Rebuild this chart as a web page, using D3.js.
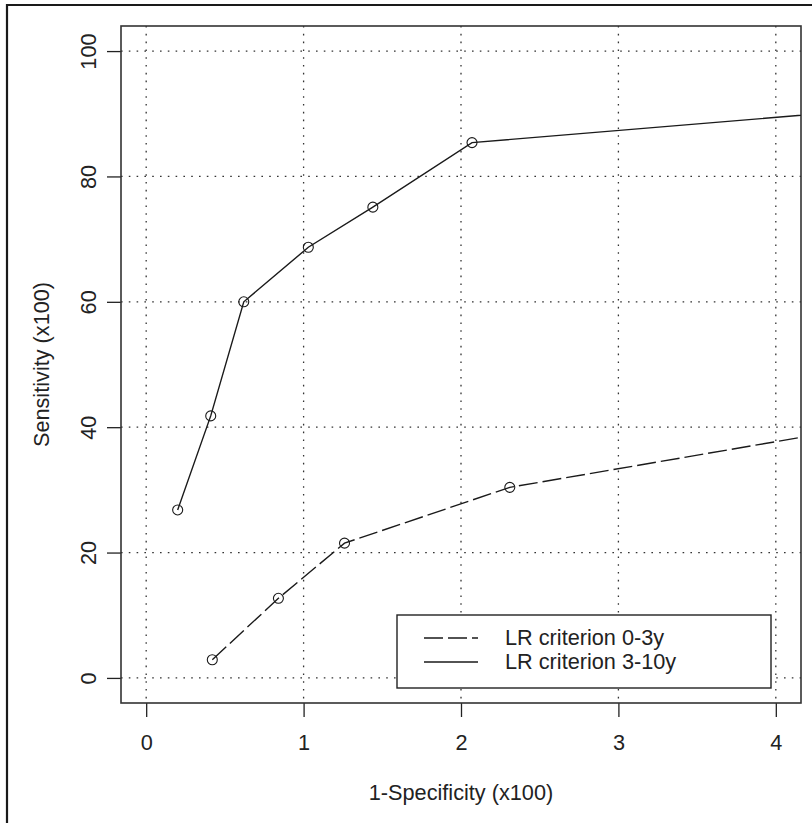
<!DOCTYPE html>
<html>
<head>
<meta charset="utf-8">
<script src="https://cdn.jsdelivr.net/npm/d3@7"></script>
<style>
  html, body { margin: 0; padding: 0; background: #fff; }
  svg text { font-family: "Liberation Sans", Arial, sans-serif; fill: #222; }
</style>
</head>
<body>
<svg id="roc" width="812" height="823"></svg>
<script>
const width = 812;
const height = 823;
const fontSize = 21.7;

// plot region (pixels)
const plotLeft = 121, plotRight = 801, plotTop = 26, plotBottom = 703;

// axis ticks
const xTicks = [0, 1, 2, 3, 4];
const yTicks = [0, 20, 40, 60, 80, 100];

// series (last point lies beyond the plot and is clipped)
const seriesNames = ["LR criterion 0-3y", "LR criterion 3-10y"];
const early_x = [0.42, 0.84, 1.26, 2.31, 5.0];
const early_y = [2.9, 12.7, 21.5, 30.4, 42.0];
const late_x = [0.20, 0.41, 0.62, 1.03, 1.44, 2.07, 5.0];
const late_y = [26.8, 41.8, 60.0, 68.7, 75.1, 85.4, 91.5];

const dashes = ["19,5", null];

const series = [
    { name: seriesNames[0], pts: early_x.map((x, i) => ({ x: x, y: early_y[i] })), dash: dashes[0] },
    { name: seriesNames[1], pts: late_x.map((x, i) => ({ x: x, y: late_y[i] })), dash: dashes[1] }
];

const svg = d3.select("#roc");

// R style limits: data range extended by 4% on each side
const xScale = d3.scaleLinear().domain([-0.16, 4.16]).range([plotLeft, plotRight]);
const yScale = d3.scaleLinear().domain([-4, 104]).range([plotBottom, plotTop]);

// outer frame (only top and left survive the crop)
svg.append("path")
    .attr("d", `M7,${height} L7,5 L${width},5`)
    .attr("fill", "none")
    .attr("stroke", "#1a1a1a")
    .attr("stroke-width", 2.2);

svg.append("clipPath").attr("id", "plot-clip")
    .append("rect")
    .attr("x", plotLeft).attr("y", plotTop)
    .attr("width", plotRight - plotLeft).attr("height", plotBottom - plotTop);

// dotted grid
const grid = svg.append("g").attr("stroke", "#333").attr("stroke-width", 1.3)
    .attr("stroke-dasharray", "1.6,6.2");
grid.selectAll(".vgrid").data(xTicks).join("line")
    .attr("x1", d => xScale(d)).attr("x2", d => xScale(d))
    .attr("y1", plotTop).attr("y2", plotBottom);
grid.selectAll(".hgrid").data(yTicks).join("line")
    .attr("x1", plotLeft).attr("x2", plotRight)
    .attr("y1", d => yScale(d)).attr("y2", d => yScale(d));

// axes (ticks outward, labels like R)
const xAxis = svg.append("g")
    .attr("transform", `translate(0, ${plotBottom})`)
    .call(d3.axisBottom(xScale).tickValues(xTicks).tickSize(14).tickPadding(18).tickFormat(d3.format("d")));
xAxis.select(".domain").remove();
xAxis.selectAll("line").attr("stroke", "#222").attr("stroke-width", 1.3);
xAxis.selectAll("text").attr("font-size", fontSize).attr("fill", "#222")
    .attr("font-family", "Liberation Sans, Arial, sans-serif");

const yAxis = svg.append("g")
    .attr("transform", `translate(${plotLeft}, 0)`)
    .call(d3.axisLeft(yScale).tickValues(yTicks).tickSize(14).tickFormat(d3.format("d")));
yAxis.select(".domain").remove();
yAxis.selectAll("line").attr("stroke", "#222").attr("stroke-width", 1.3);
yAxis.selectAll("text").remove();
yAxis.selectAll(".tick").append("text")
    .attr("transform", `translate(${96 - plotLeft}, 0) rotate(-90)`)
    .attr("text-anchor", "middle")
    .attr("font-size", fontSize)
    .attr("fill", "#222")
    .text(d => d);

// plot box
svg.append("rect")
    .attr("x", plotLeft).attr("y", plotTop)
    .attr("width", plotRight - plotLeft).attr("height", plotBottom - plotTop)
    .attr("fill", "none").attr("stroke", "#333").attr("stroke-width", 1.6);

// data
const line = d3.line().x(d => xScale(d.x)).y(d => yScale(d.y));
const plot = svg.append("g").attr("clip-path", "url(#plot-clip)");

series.forEach(s => {
    plot.append("path")
        .datum(s.pts)
        .attr("d", line)
        .attr("fill", "none")
        .attr("stroke", "#1a1a1a")
        .attr("stroke-width", 1.4)
        .attr("stroke-dasharray", s.dash);

    plot.selectAll(null).data(s.pts).join("circle")
        .attr("cx", d => xScale(d.x))
        .attr("cy", d => yScale(d.y))
        .attr("r", 5)
        .attr("fill", "none")
        .attr("stroke", "#1a1a1a")
        .attr("stroke-width", 1.1);
});

// axis titles
svg.append("text")
    .attr("x", (plotLeft + plotRight) / 2)
    .attr("y", 800)
    .attr("text-anchor", "middle")
    .attr("font-size", fontSize)
    .text("1-Specificity (x100)");

svg.append("text")
    .attr("transform", `translate(49, ${(plotTop + plotBottom) / 2}) rotate(-90)`)
    .attr("text-anchor", "middle")
    .attr("font-size", fontSize)
    .text("Sensitivity (x100)");

// legend
const legend = svg.append("g");
legend.append("rect")
    .attr("x", 397).attr("y", 615)
    .attr("width", 374).attr("height", 73)
    .attr("fill", "#fff").attr("stroke", "#222").attr("stroke-width", 1.4);

series.forEach((s, i) => {
    const ly = 638 + i * 24;
    legend.append("line")
        .attr("x1", 424).attr("x2", 478)
        .attr("y1", ly).attr("y2", ly)
        .attr("stroke", "#1a1a1a")
        .attr("stroke-width", 1.4)
        .attr("stroke-dasharray", s.dash);
    legend.append("text")
        .attr("x", 505)
        .attr("y", ly + 7)
        .attr("font-size", fontSize)
        .text(s.name);
});
</script>
</body>
</html>
